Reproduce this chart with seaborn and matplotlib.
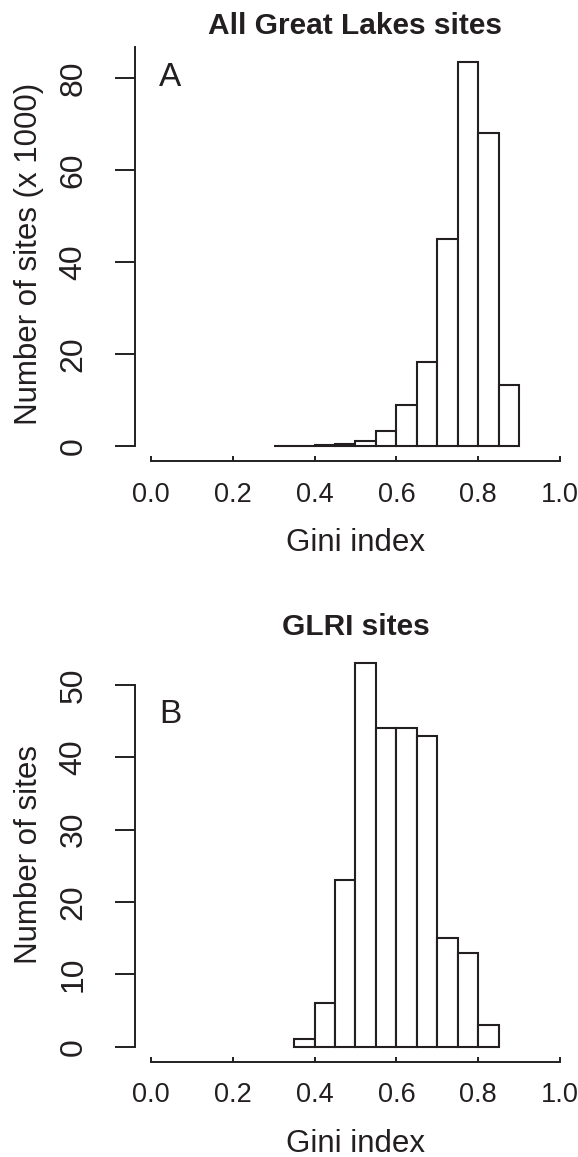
import numpy as np
import pandas as pd
import matplotlib
matplotlib.use("Agg")
import matplotlib.pyplot as plt
import seaborn as sns

# ---- data ----
edges_a = [0.30, 0.35, 0.40, 0.45, 0.50, 0.55, 0.60, 0.65, 0.70, 0.75, 0.80, 0.85, 0.90]
counts_a = [0.05, 0.1, 0.2, 0.4, 1.0, 3.3, 8.9, 18.2, 45.0, 83.5, 68.0, 13.2]  # thousands

edges_b = [0.35, 0.40, 0.45, 0.50, 0.55, 0.60, 0.65, 0.70, 0.75, 0.80, 0.85]
counts_b = [1, 6, 23, 53, 44, 44, 43, 15, 13, 3]

titles = ["All Great Lakes sites", "GLRI sites"]
ylabels = ["Number of sites (x 1000)", "Number of sites"]
panel_letters = ["A", "B"]
xticks = [0.0, 0.2, 0.4, 0.6, 0.8, 1.0]
yticks_a = [0, 20, 40, 60, 80]
yticks_b = [0, 10, 20, 30, 40, 50]

sns.set_style("white")
plt.rcParams['font.family'] = ['Liberation Sans', 'DejaVu Sans']
INK = "#231f20"

W, H = 578, 1157
fig = plt.figure(figsize=(W / 100, H / 100), dpi=100)

def px_axes(left, top, right, bottom):
    return fig.add_axes([left / W, 1 - bottom / H, (right - left) / W, (bottom - top) / H])

ax_a = px_axes(134.6, 46.5, 576.4, 461.4)
ax_b = px_axes(134.6, 648.0, 576.4, 1062.0)

panels = [
    (ax_a, edges_a, counts_a, yticks_a, (-3.34, 86.84), (0, 86.84), 80.2),
    (ax_b, edges_b, counts_b, yticks_b, (-2.12, 55.12), (0, 50), 45.9),
]

for i, (ax, edges, counts, yt, ylim, ybounds, letter_y) in enumerate(panels):
    e = np.asarray(edges)
    centers = (e[:-1] + e[1:]) / 2
    df = pd.DataFrame({"gini": centers, "n": counts})
    sns.histplot(data=df, x="gini", weights="n", bins=list(edges), stat="count",
                 color="white", edgecolor=INK, linewidth=1.5, alpha=1, ax=ax)
    ax.set_xlim(-0.04, 1.04)
    ax.set_ylim(*ylim)
    for s in ["top", "right"]:
        ax.spines[s].set_visible(False)
    ax.spines["left"].set_bounds(*ybounds)
    ax.spines["bottom"].set_bounds(0, 1)
    for s in ["left", "bottom"]:
        ax.spines[s].set_color(INK)
        ax.spines[s].set_linewidth(1.4)
    ax.set_xticks(xticks)
    ax.set_xticklabels([f"{v:.1f}" for v in xticks], fontsize=19.5, color=INK, va="center")
    ax.set_yticks(yt)
    ax.set_yticklabels([str(v) for v in yt], fontsize=23, color=INK, rotation=90,
                       ha="center", va="center")
    ax.tick_params(axis="x", bottom=True, direction="in", length=3.5, width=1.4,
                   color=INK, pad=24)
    ax.tick_params(axis="y", left=True, direction="out", length=14.4, width=1.4,
                   color=INK, pad=29.5)
    ax.set_xlabel("Gini index", fontsize=22.5, color=INK, va="center")
    ax.xaxis.set_label_coords(0.5, -0.197)
    ax.set_ylabel(ylabels[i], fontsize=22.5, color=INK, va="center")
    ax.yaxis.set_label_coords((29 - 134.6) / 441.8, 0.5)
    ax.set_title(titles[i], fontsize=21.5, fontweight="bold", color=INK,
                 y=1 + 21 / 415, va="center", pad=0)
    ax.text(0.047, letter_y, panel_letters[i], fontsize=24, color=INK,
            ha="center", va="center")
    ax.grid(False)

fig.savefig("out.png", dpi=100, facecolor="white")
